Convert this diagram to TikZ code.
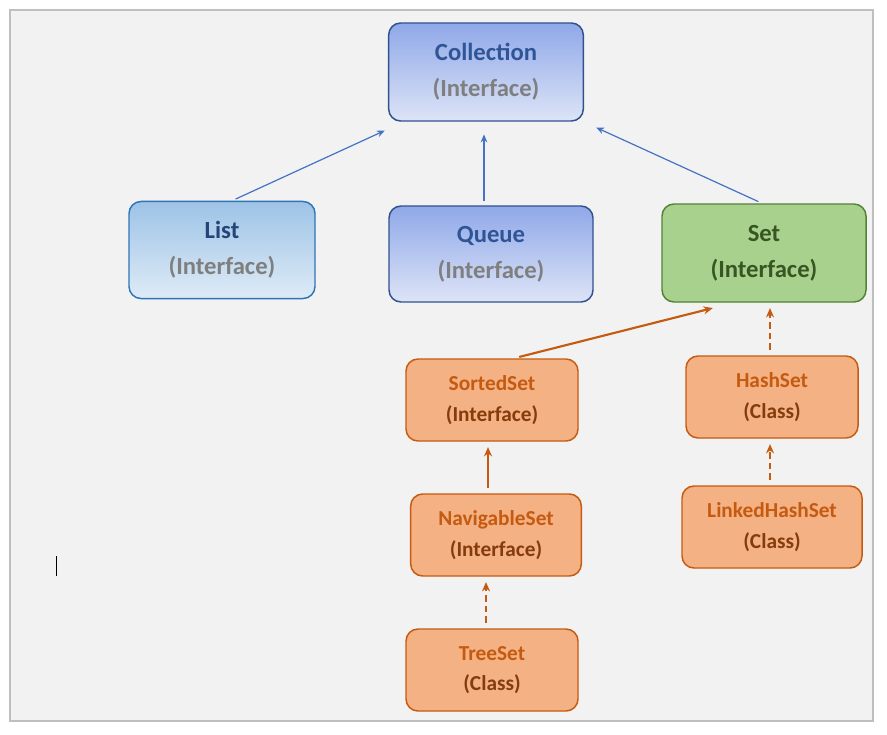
\documentclass[tikz,border=0pt]{standalone}
\usepackage{fontspec}
\setmainfont{Carlito}
\usetikzlibrary{arrows.meta,calc}
\definecolor{bgc}{HTML}{F2F2F2}
\definecolor{frm}{HTML}{BFBFBF}
\definecolor{dblue}{HTML}{2F528F}
\definecolor{tblue}{HTML}{2F5597}
\definecolor{lblue}{HTML}{2E75B6}
\definecolor{gray7}{HTML}{7F7F7F}
\definecolor{arrb}{HTML}{4472C4}
\definecolor{gfill}{HTML}{A9D18E}
\definecolor{gline}{HTML}{548235}
\definecolor{gtext}{HTML}{375623}
\definecolor{ofill}{HTML}{F4B183}
\definecolor{oline}{HTML}{C55A11}
\definecolor{otext}{HTML}{843C0C}
\definecolor{btop}{HTML}{8FA8E8}
\definecolor{bbot}{HTML}{DDE4F7}
\definecolor{ltop}{HTML}{9DC3E6}
\definecolor{lbot}{HTML}{DEEBF7}
\tikzset{
 box/.style={draw, rounded corners=9pt, line width=1.1pt, align=center, inner sep=0pt, font=\bfseries},
 bluebox/.style={box, draw=dblue, top color=btop, bottom color=bbot, font=\bfseries\fontsize{18.5}{27}\selectfont},
 lbluebox/.style={box, draw=lblue, top color=ltop, bottom color=lbot, font=\bfseries\fontsize{18.5}{27}\selectfont},
 greenbox/.style={box, draw=gline, fill=gfill, font=\bfseries\fontsize{18.5}{27}\selectfont},
 obox/.style={box, draw=oline, fill=ofill, minimum width=129pt, minimum height=61.5pt, font=\bfseries\fontsize{16}{23}\selectfont},
 barr/.style={draw=arrb, line width=0.9pt, -{Stealth[length=6pt,width=5pt]}, shorten <=3pt, shorten >=5pt},
 oarr/.style={draw=oline, line width=1.6pt, -{Stealth[length=7pt,width=6pt]}, shorten <=4pt, shorten >=4pt},
 odash/.style={oarr, dashed, dash pattern=on 5pt off 3pt},
}
\begin{document}
\begin{tikzpicture}[x=0.75pt,y=-0.75pt]
\useasboundingbox (0,0) rectangle (887,734);
\fill[white] (0,0) rectangle (887,734);
\draw[frm, fill=bgc, line width=0.8pt] (10,10) rectangle (873,721);
\draw[black, line width=0.6pt] (56,556) -- (56,576);

\node[bluebox, minimum width=146pt, minimum height=73.5pt] (collection) at (486,72)
 {\textcolor{tblue}{Collection}\\\textcolor{gray7}{(Interface)}};
\node[lbluebox, minimum width=139.5pt, minimum height=72.8pt] (list) at (222,250)
 {\textcolor{tblue!80!black}{List}\\\textcolor{gray7}{(Interface)}};
\node[bluebox, minimum width=153pt, minimum height=72pt] (queue) at (491,254)
 {\textcolor{tblue}{Queue}\\\textcolor{gray7}{(Interface)}};
\node[greenbox, minimum width=153pt, minimum height=73.5pt] (set) at (764,253)
 {\textcolor{gtext}{Set}\\\textcolor{gtext}{(Interface)}};

\node[obox] (sorted) at (492,400) {\textcolor{oline}{SortedSet}\\\textcolor{otext}{(Interface)}};
\node[obox] (hash) at (772,397) {\textcolor{oline}{HashSet}\\\textcolor{otext}{(Class)}};
\node[obox, minimum width=128pt] (nav) at (496,535) {\textcolor{oline}{NavigableSet}\\\textcolor{otext}{(Interface)}};
\node[obox, minimum width=135pt] (linked) at (772,527) {\textcolor{oline}{LinkedHashSet}\\\textcolor{otext}{(Class)}};
\node[obox] (tree) at (492,670) {\textcolor{oline}{TreeSet}\\\textcolor{otext}{(Class)}};

\draw[barr] ($(list.north)+(10,0)$) -- ($(collection.south west)+(3,6)$);
\draw[barr] ($(queue.north)+(-7,0)$) -- ($(collection.south)+(-2,6)$);
\draw[barr] ($(set.north)+(-2,0)$) -- ($(collection.south east)+(6,3)$);
\draw[oarr] ($(sorted.north)+(22,0)$) -- ($(set.south)+(-46,4)$);
\draw[odash] ($(hash.north)+(-2,0)$) -- ($(set.south)+(6,0)$);
\draw[oarr] ($(nav.north)+(-8,0)$) -- ($(sorted.south)+(-4,0)$);
\draw[odash] ($(linked.north)+(-2,0)$) -- ($(hash.south)+(-2,0)$);
\draw[odash] ($(tree.north)+(-6,0)$) -- ($(nav.south)+(-10,0)$);
\end{tikzpicture}
\end{document}
